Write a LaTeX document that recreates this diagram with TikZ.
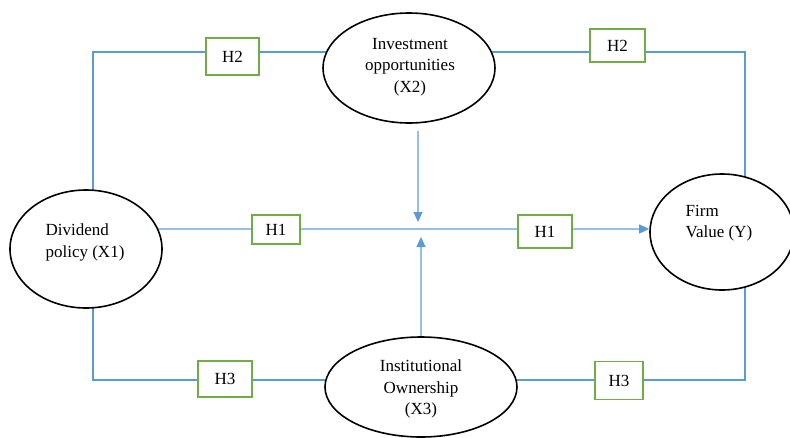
\documentclass[tikz,border=0pt]{standalone}
\usepackage{fontspec}
\setmainfont{Liberation Serif}
\usetikzlibrary{shapes.geometric,arrows.meta,backgrounds}
\definecolor{linkblue}{RGB}{91,155,213}
\definecolor{lightblue}{RGB}{150,192,230}
\definecolor{boxgreen}{RGB}{112,173,71}
\tikzset{
  var/.style={draw=black,line width=1.6pt,ellipse,fill=white,inner sep=0pt},
  hyp/.style={draw=boxgreen,line width=1.5pt,fill=white,inner sep=0pt,font=\fontsize{17}{21}\selectfont},
  txt/.style={font=\fontsize{17}{21.5}\selectfont,inner sep=0pt},
  link/.style={draw=linkblue,line width=1.6pt},
  mid/.style={draw=lightblue,line width=1.1pt,-{Triangle[length=10pt,width=9pt,color=linkblue]}}
}
\begin{document}
\begin{tikzpicture}[x=1pt,y=-1pt]
    \useasboundingbox (0,0) rectangle (790,437);
    \node[var,minimum width=152pt,minimum height=118pt] (dp) at (86,249) {};
    \node[var,minimum width=172pt,minimum height=110pt] (io) at (409,68) {};
    \node[var,minimum width=192pt,minimum height=100pt] (inst) at (421,387) {};
    \node[var,minimum width=144pt,minimum height=116pt] (fv) at (722,232) {};
    \node[txt,align=left] (dpt) at (85,242.5) {Dividend\\policy (X1)};
    \node[txt,align=center] (iot) at (410,67) {Investment\\opportunities\\(X2)};
    \node[txt,align=center] (instt) at (421,389) {Institutional\\Ownership\\(X3)};
    \node[txt,align=left] (fvt) at (719,223) {Firm\\Value (Y)};
    \foreach \n/\x/\y/\w/\h/\t in {h2l/232.5/56.5/53/37/H2, h2r/617.5/45.5/55/33/H2,
                                   h1l/276/229.5/48/29/H1, h1r/545/231.5/54/33/H1,
                                   h3l/225/379/54/36/H3, h3r/619/380.5/48/38/H3} {
      \node[hyp,minimum width=\w pt,minimum height=\h pt] (\n) at (\x,\y) {\t};
    }
    \coordinate (tl) at (93,52);
    \coordinate (tr) at (745,52);
    \coordinate (bl) at (93,380);
    \coordinate (br) at (745,380);
    \coordinate (m) at (0,229);
    \coordinate (dn) at (418,222);
    \coordinate (up) at (421,237);
    \begin{scope}[on background layer]
      \draw[link] (dp.center -| tl) -- (tl) -- (tr) -- (fv.center -| tr);
      \draw[link] (dp.center -| bl) -- (bl) -- (br) -- (fv.center -| br);
      \draw[mid] (dp.center |- m) -- (fv.west |- m);
    \end{scope}
    \draw[mid,shorten <=7pt] (io.south -| dn) -- (dn);
    \draw[mid] (inst.north -| up) -- (up);
  \end{tikzpicture}
\end{document}
